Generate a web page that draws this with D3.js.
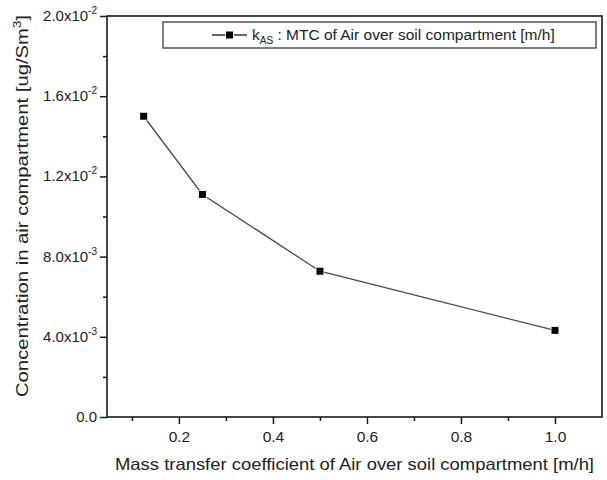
<!DOCTYPE html>
<html>
<head>
<meta charset="utf-8">
<script src="https://cdn.jsdelivr.net/npm/d3@7"></script>
<style>
  html, body { margin: 0; padding: 0; background: #fff; }
  svg { display: block; font-family: "Liberation Sans", Arial, sans-serif; }
</style>
</head>
<body>
<svg id="chart" width="607" height="480"></svg>
<script>
// Mass transfer coefficient (m/h) vs. air compartment concentration (ug/Sm3)
const mtcValues = [0.125, 0.25, 0.5, 1.0];
const concValues = [0.0150, 0.0111, 0.00727, 0.00432];

const xMajorTicks = [0.2, 0.4, 0.6, 0.8, 1.0];
const xMinorTicks = [0.1, 0.3, 0.5, 0.7, 0.9];
const yMajorTicks = [0, 0.004, 0.008, 0.012, 0.016, 0.020];
const yMinorTicks = [0.002, 0.006, 0.010, 0.014, 0.018];
// y tick label parts: mantissa and exponent ("" means plain text)
const yTickMantissa = ["0.0", "4.0x10", "8.0x10", "1.2x10", "1.6x10", "2.0x10"];
const yTickExponent = ["", "-3", "-3", "-2", "-2", "-2"];

const seriesName = "k";
const seriesSub = "AS";
const seriesDesc = " : MTC of Air over soil compartment [m/h]";
const xTitle = "Mass transfer coefficient of Air over soil compartment [m/h]";
const yTitle = "Concentration in air compartment [ug/Sm";
const yTitleSup = "3";
const yTitleEnd = "]";

const svg = d3.select("#chart");
const plot = { left: 107, right: 602, top: 16, bottom: 417 };

const x = d3.scaleLinear().domain([0.047, 1.1]).range([plot.left, plot.right]);
const y = d3.scaleLinear().domain([0, 0.02]).range([plot.bottom, plot.top]);

const ink = "#1a1a1a";
const textInk = "#222";

// minor ticks
svg.append("g")
  .attr("transform", `translate(0,${plot.bottom})`)
  .call(d3.axisBottom(x).tickValues(xMinorTicks).tickSize(4).tickFormat(""))
  .call(g => g.select(".domain").remove())
  .call(g => g.selectAll("line").attr("stroke", ink).attr("stroke-width", 1.5));
svg.append("g")
  .attr("transform", `translate(${plot.left},0)`)
  .call(d3.axisLeft(y).tickValues(yMinorTicks).tickSize(4).tickFormat(""))
  .call(g => g.select(".domain").remove())
  .call(g => g.selectAll("line").attr("stroke", ink).attr("stroke-width", 1.5));

// major x axis
const xAxis = svg.append("g")
  .attr("transform", `translate(0,${plot.bottom})`)
  .call(d3.axisBottom(x).tickValues(xMajorTicks).tickSize(7).tickPadding(7)
    .tickFormat(d3.format(".1f")));
xAxis.select(".domain").remove();
xAxis.selectAll("line").attr("stroke", ink).attr("stroke-width", 1.5);
xAxis.selectAll("text").attr("fill", textInk).attr("font-size", 15.5)
  .attr("font-family", "Liberation Sans, Arial, sans-serif");

// major y axis
const yAxis = svg.append("g")
  .attr("transform", `translate(${plot.left},0)`)
  .call(d3.axisLeft(y).tickValues(yMajorTicks).tickSize(7).tickFormat(""));
yAxis.select(".domain").remove();
yAxis.selectAll("line").attr("stroke", ink).attr("stroke-width", 1.5);

// y tick labels with superscript exponent
yMajorTicks.forEach((v, i) => {
  const t = svg.append("text")
    .attr("x", plot.left - 10)
    .attr("y", y(v) + 5)
    .attr("text-anchor", "end")
    .attr("font-size", 15)
    .attr("fill", textInk);
  t.append("tspan").text(yTickMantissa[i]);
  if (yTickExponent[i]) {
    t.append("tspan").attr("font-size", 10).attr("dy", -7).text(yTickExponent[i]);
  }
});

// frame
svg.append("rect")
  .attr("x", plot.left).attr("y", plot.top)
  .attr("width", plot.right - plot.left).attr("height", plot.bottom - plot.top)
  .attr("fill", "none").attr("stroke", ink).attr("stroke-width", 1.6);

// data line
const line = d3.line().x((d, i) => x(mtcValues[i])).y(d => y(d));
svg.append("path")
  .datum(concValues)
  .attr("d", line)
  .attr("fill", "none")
  .attr("stroke", "#4a4a4a")
  .attr("stroke-width", 1.3);

// square markers with a thin white halo so the line stops short of them
svg.selectAll("rect.pt")
  .data(concValues)
  .join("rect")
  .attr("class", "pt")
  .attr("x", (d, i) => x(mtcValues[i]) - 3.5)
  .attr("y", d => y(d) - 3.5)
  .attr("width", 7).attr("height", 7)
  .attr("fill", "#000")
  .attr("stroke", "#fff").attr("stroke-width", 1.5)
  .attr("paint-order", "stroke");

// legend
const leg = { x: 163, y: 22, w: 433, h: 26 };
svg.append("rect")
  .attr("x", leg.x).attr("y", leg.y).attr("width", leg.w).attr("height", leg.h)
  .attr("fill", "#fff").attr("stroke", "#555").attr("stroke-width", 1.5);
const ly = leg.y + leg.h / 2;
svg.append("line")
  .attr("x1", 212).attr("x2", 247).attr("y1", ly).attr("y2", ly)
  .attr("stroke", "#333").attr("stroke-width", 1.3);
svg.append("rect")
  .attr("x", 229.5 - 3.5).attr("y", ly - 3.5).attr("width", 7).attr("height", 7)
  .attr("fill", "#000").attr("stroke", "#fff").attr("stroke-width", 1.5)
  .attr("paint-order", "stroke");
const lt = svg.append("text")
  .attr("x", 252).attr("y", ly + 5)
  .attr("font-size", 15.5).attr("fill", textInk);
lt.append("tspan").text(seriesName);
lt.append("tspan").attr("font-size", 10).attr("dy", 4).text(seriesSub);
lt.append("tspan").attr("dy", -4).text(seriesDesc);

// axis titles
svg.append("text")
  .attr("x", 115)
  .attr("y", 470)
  .attr("font-size", 16.5)
  .attr("fill", textInk)
  .attr("textLength", 479)
  .attr("lengthAdjust", "spacingAndGlyphs")
  .text(xTitle);

const yt = svg.append("text")
  .attr("transform", `translate(28,397) rotate(-90)`)
  .attr("font-size", 16)
  .attr("fill", textInk)
  .attr("textLength", 382)
  .attr("lengthAdjust", "spacingAndGlyphs");
yt.append("tspan").text(yTitle);
yt.append("tspan").attr("font-size", 10.5).attr("dy", -7).text(yTitleSup);
yt.append("tspan").attr("dy", 7).text(yTitleEnd);
</script>
</body>
</html>
